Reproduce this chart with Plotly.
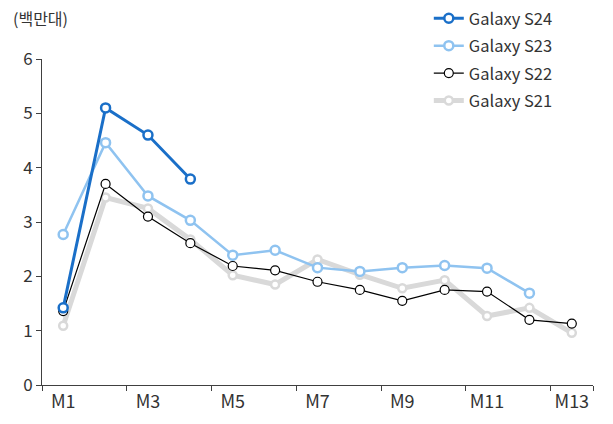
import plotly.graph_objects as go

months = ["M1", "M2", "M3", "M4", "M5", "M6", "M7", "M8", "M9", "M10", "M11", "M12", "M13"]
s24 = [1.42, 5.10, 4.60, 3.79]
s23 = [2.77, 4.46, 3.48, 3.03, 2.39, 2.48, 2.16, 2.09, 2.16, 2.20, 2.15, 1.69]
s22 = [1.36, 3.70, 3.10, 2.61, 2.19, 2.11, 1.90, 1.75, 1.55, 1.75, 1.72, 1.20, 1.13]
s21 = [1.09, 3.45, 3.25, 2.68, 2.02, 1.85, 2.31, 2.03, 1.78, 1.93, 1.27, 1.42, 0.96]
tick_labels = ["M1", "M3", "M5", "M7", "M9", "M11", "M13"]
unit_label = "(백만대)"

FONT = "Noto Sans CJK KR"
TXT = "#333333"

fig = go.Figure()
series = [
    ("Galaxy S21", s21, "#d9d9d9", 5, 8, 2.5, 4),
    ("Galaxy S22", s22, "#000000", 1.2, 9, 1.2, 3),
    ("Galaxy S23", s23, "#8fc3f0", 2.5, 9, 2.5, 2),
    ("Galaxy S24", s24, "#1a6fc8", 3, 9, 2.5, 1),
]
for name, vals, color, lw, ms, mlw, rank in series:
    fig.add_trace(go.Scatter(
        x=months[:len(vals)], y=vals, name=name, mode="lines+markers",
        line=dict(color=color, width=lw),
        marker=dict(symbol="circle", size=ms, color="white", line=dict(color=color, width=mlw)),
        legendrank=rank, legendgroup=name,
    ))

fig.update_layout(
    width=613, height=424,
    margin=dict(l=42, r=20, t=59, b=39, autoexpand=False),
    paper_bgcolor="white", plot_bgcolor="white",
    font=dict(family=FONT, size=16, color=TXT),
    showlegend=True,
    legend=dict(x=0.702, y=1.178, xanchor="left", yanchor="top",
                tracegroupgap=3,
                font=dict(size=16.5, color=TXT), bgcolor="rgba(0,0,0,0)"),
    xaxis=dict(
        type="category", categoryorder="array", categoryarray=months,
        range=[-0.5, 12.5],
        tickmode="array", tickvals=tick_labels, ticktext=tick_labels,
        tickson="boundaries", tickangle=0,
        ticks="outside", ticklen=5, tickcolor="#404040",
        showline=True, linecolor="#404040", linewidth=1,
        showgrid=False, zeroline=False,
        tickfont=dict(size=18, color=TXT),
    ),
    yaxis=dict(
        range=[0, 6], dtick=1, tick0=0,
        ticks="outside", ticklen=5, tickcolor="#404040",
        showline=True, linecolor="#404040", linewidth=1,
        showgrid=False, zeroline=False,
        tickfont=dict(size=17, color=TXT),
    ),
    annotations=[dict(
        text=unit_label, xref="paper", yref="paper", x=-0.056, y=1.126,
        xanchor="left", yanchor="middle", showarrow=False,
        font=dict(size=16, color=TXT),
    )],
)

fig.write_html("out.html", config={"displayModeBar": False},
               post_script="document.body.style.margin='0';")
